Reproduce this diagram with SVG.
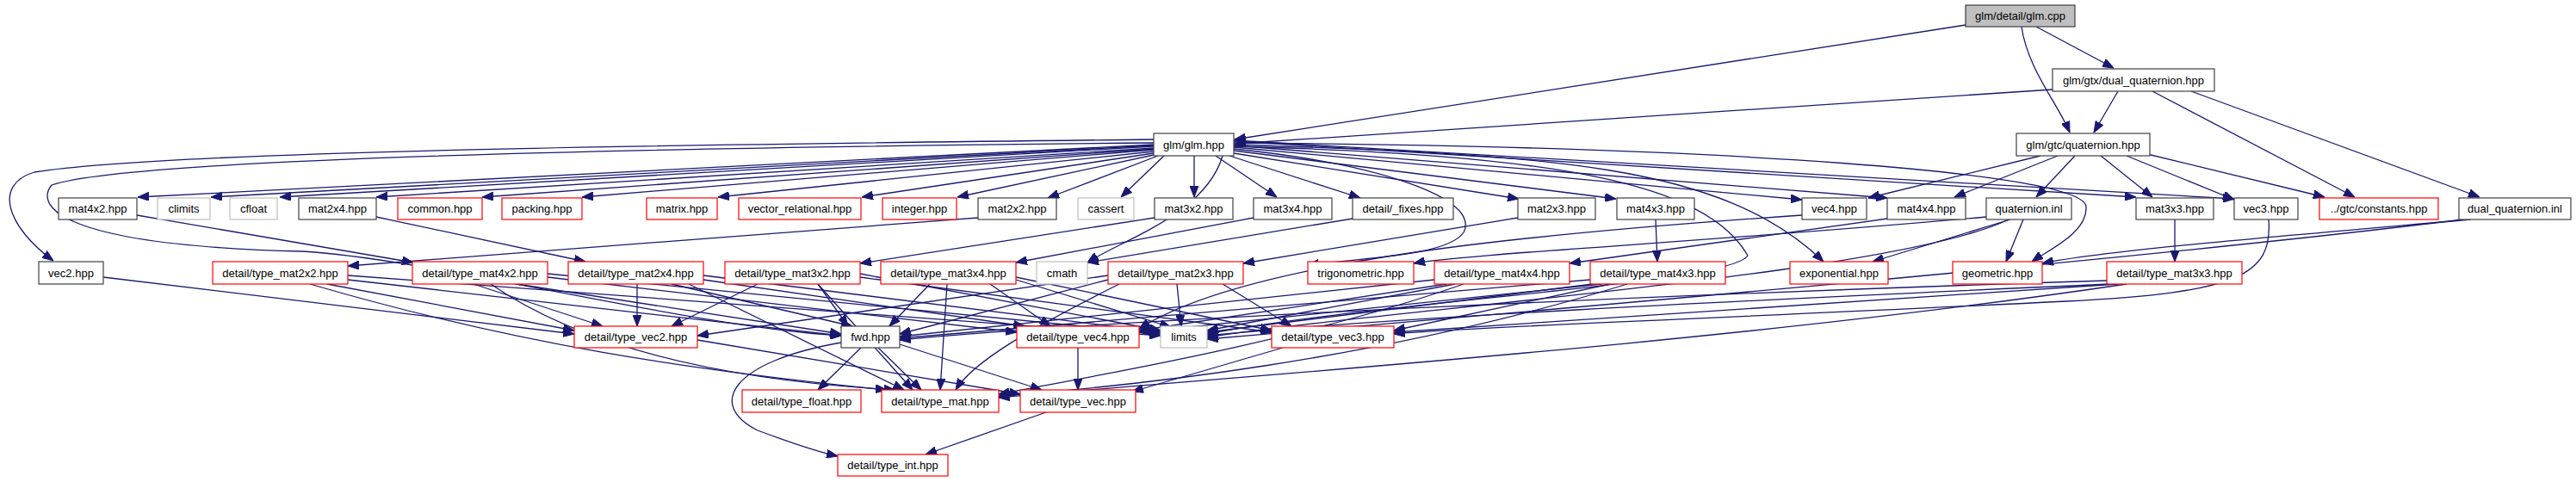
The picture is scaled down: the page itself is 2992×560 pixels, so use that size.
<svg xmlns="http://www.w3.org/2000/svg" width="2992" height="560" viewBox="0 0 2992 560">
<style>
rect{fill:#fff;stroke-width:1.2}
.k rect{stroke:#404040}
.r rect{stroke:#ff0000}
.g rect{stroke:#bfbfbf}
.top rect{fill:#bfbfbf;stroke:#404040}
text{font-family:"Liberation Sans",Arial,sans-serif;font-size:13px;text-anchor:middle;fill:#000}
#edges path{fill:none;stroke:#191970;stroke-width:1.3;marker-end:url(#a)}
</style>
<defs>
<marker id="a" markerUnits="userSpaceOnUse" markerWidth="13" markerHeight="10" refX="13" refY="5" orient="auto">
<path d="M0,0 L13,5 L0,10 z" fill="#191970" stroke="#191970"/>
</marker>
</defs>
<rect x="0" y="0" width="2992" height="560" style="fill:#fff;stroke:none"/>
<g id="edges">
<path d="M2283,29 L1434,162"/>
<path d="M2348,31 C2355,80 2390,120 2404,154"/>
<path d="M2365,31 L2455,79"/>
<path d="M2384,104 L1434,167"/>
<path d="M2460,106 L2432,154"/>
<path d="M2500,106 L2735,229"/>
<path d="M2545,106 L2880,229"/>
<path d="M2370,181 L2170,230"/>
<path d="M2390,181 L2270,229"/>
<path d="M2410,181 L2365,229"/>
<path d="M2440,181 L2500,229"/>
<path d="M2470,181 L2595,232"/>
<path d="M2490,178 L2700,229"/>
<path d="M1340,162 C800,168 200,175 40,200 C-10,215 10,265 62,303"/>
<path d="M1340,166 C700,172 150,185 60,215 C40,240 70,285 350,292 C500,300 800,380 977,390"/>
<path d="M1340,168 L160,229"/>
<path d="M1340,169 L245,229"/>
<path d="M1340,170 L325,229"/>
<path d="M1340,172 L437,229"/>
<path d="M1340,173 L560,229"/>
<path d="M1340,174 L676,229"/>
<path d="M1340,176 L834,229"/>
<path d="M1340,178 L1001,229"/>
<path d="M1340,180 L1112,229"/>
<path d="M1345,181 L1217,230"/>
<path d="M1352,181 L1302,229"/>
<path d="M1387,181 L1387,229"/>
<path d="M1412,181 L1483,229"/>
<path d="M1428,181 L1580,230"/>
<path d="M1433,178 L1764,231"/>
<path d="M1433,175 L1877,231"/>
<path d="M1433,173 C1600,190 1720,230 1700,270 C1680,300 1560,300 1519,309"/>
<path d="M1433,171 L2093,232"/>
<path d="M1433,169 L2192,230"/>
<path d="M1433,168 C1800,180 2000,190 2118,304"/>
<path d="M1433,166 C2000,170 2420,200 2423,240 C2425,270 2380,290 2360,304"/>
<path d="M1433,164 L2481,229"/>
<path d="M1433,163 L2595,231"/>
<path d="M1433,170 C1800,180 1980,210 2030,297 C2010,330 1600,350 1402,388"/>
<path d="M1420,181 C1400,250 1300,280 1263,305"/>
<path d="M120,322 L667,388"/>
<path d="M159,250 L480,305"/>
<path d="M437,252 L680,304"/>
<path d="M1136,253 L404,309"/>
<path d="M1341,253 L999,306"/>
<path d="M1456,253 L1180,305"/>
<path d="M1571,254 L1263,305"/>
<path d="M1763,253 L1444,306"/>
<path d="M1923,255 L1925,304"/>
<path d="M2093,250 C1800,270 1450,300 1323,382"/>
<path d="M2192,254 L1823,306"/>
<path d="M2307,252 C2000,280 1700,295 1642,306"/>
<path d="M2335,255 L2175,304"/>
<path d="M2350,255 L2330,304"/>
<path d="M2333,255 C2200,320 1600,360 1402,392"/>
<path d="M2526,255 L2526,304"/>
<path d="M2635,255 C2640,320 2600,340 2400,350 C2000,370 1700,380 1619,388"/>
<path d="M2870,255 C2700,270 2450,290 2372,306"/>
<path d="M2860,255 C2500,300 1800,360 1402,394"/>
<path d="M404,325 L977,390"/>
<path d="M380,330 L667,384"/>
<path d="M360,330 C600,400 800,430 1030,453"/>
<path d="M404,320 L1348,390"/>
<path d="M600,330 L977,388"/>
<path d="M550,330 L700,379"/>
<path d="M636,322 L1181,386"/>
<path d="M570,330 C700,420 900,445 1040,453"/>
<path d="M636,318 L1348,388"/>
<path d="M780,330 L990,379"/>
<path d="M740,330 L740,379"/>
<path d="M817,325 L1190,379"/>
<path d="M800,330 L1050,453"/>
<path d="M817,320 L1348,386"/>
<path d="M950,330 L985,379"/>
<path d="M880,330 L780,379"/>
<path d="M999,322 L1477,386"/>
<path d="M950,330 L1060,453"/>
<path d="M999,318 L1348,384"/>
<path d="M1080,330 L1033,379"/>
<path d="M1180,322 L1477,384"/>
<path d="M1150,330 L1220,379"/>
<path d="M1100,330 L1092,453"/>
<path d="M1180,325 L1360,380"/>
<path d="M1287,325 L1045,388"/>
<path d="M1287,320 L810,390"/>
<path d="M1420,330 L1500,379"/>
<path d="M1300,330 C1200,380 1130,420 1110,453"/>
<path d="M1367,330 L1372,379"/>
<path d="M1666,325 L1045,391"/>
<path d="M1680,330 L1323,384"/>
<path d="M1700,330 C1500,400 1250,440 1160,458"/>
<path d="M1690,330 L1402,384"/>
<path d="M1847,325 L1045,393"/>
<path d="M1870,330 L1619,384"/>
<path d="M1860,330 L1323,386"/>
<path d="M1890,330 C1600,420 1300,450 1160,460"/>
<path d="M1850,330 L1402,386"/>
<path d="M2447,326 C2000,340 1300,370 1045,395"/>
<path d="M2460,330 L1619,386"/>
<path d="M2470,330 C2000,400 1400,440 1160,462"/>
<path d="M2450,330 C2000,350 1600,370 1402,390"/>
<path d="M810,395 L1185,458"/>
<path d="M1000,404 L950,453"/>
<path d="M1020,404 L1070,453"/>
<path d="M1045,400 L1210,453"/>
<path d="M977,398 C850,420 820,470 880,500 C920,515 950,525 973,530"/>
<path d="M1252,404 L1252,453"/>
<path d="M1490,404 L1315,455"/>
<path d="M1215,479 L1075,528"/>
</g>
<g id="n_glm_cpp" class="top"><rect x="2283" y="6" width="127" height="25"/><text x="2346.5" y="23">glm/detail/glm.cpp</text></g>
<g id="n_dual_quaternion_hpp" class="k"><rect x="2384" y="80" width="188" height="26"/><text x="2478" y="97.5">glm/gtx/dual_quaternion.hpp</text></g>
<g id="n_glm_hpp" class="k"><rect x="1340" y="155" width="93" height="26"/><text x="1386.5" y="172.5">glm/glm.hpp</text></g>
<g id="n_quaternion_hpp" class="k"><rect x="2342" y="155" width="155" height="26"/><text x="2419.5" y="172.5">glm/gtc/quaternion.hpp</text></g>
<g id="n_mat4x2" class="k"><rect x="68" y="230" width="91" height="25"/><text x="113.5" y="247">mat4x2.hpp</text></g>
<g id="n_climits" class="g"><rect x="183" y="230" width="61" height="25"/><text x="213.5" y="247">climits</text></g>
<g id="n_cfloat" class="g"><rect x="267" y="230" width="55" height="25"/><text x="294.5" y="247">cfloat</text></g>
<g id="n_mat2x4" class="k"><rect x="347" y="230" width="90" height="25"/><text x="392" y="247">mat2x4.hpp</text></g>
<g id="n_common" class="r"><rect x="462" y="230" width="98" height="25"/><text x="511" y="247">common.hpp</text></g>
<g id="n_packing" class="r"><rect x="583" y="230" width="93" height="25"/><text x="629.5" y="247">packing.hpp</text></g>
<g id="n_matrix" class="r"><rect x="751" y="230" width="82" height="25"/><text x="792" y="247">matrix.hpp</text></g>
<g id="n_vector_relational" class="r"><rect x="858" y="230" width="142" height="25"/><text x="929" y="247">vector_relational.hpp</text></g>
<g id="n_integer" class="r"><rect x="1025" y="230" width="86" height="25"/><text x="1068" y="247">integer.hpp</text></g>
<g id="n_mat2x2" class="k"><rect x="1136" y="230" width="91" height="25"/><text x="1181.5" y="247">mat2x2.hpp</text></g>
<g id="n_cassert" class="g"><rect x="1252" y="230" width="65" height="25"/><text x="1284.5" y="247">cassert</text></g>
<g id="n_mat3x2" class="k"><rect x="1341" y="230" width="91" height="25"/><text x="1386.5" y="247">mat3x2.hpp</text></g>
<g id="n_mat3x4" class="k"><rect x="1456" y="230" width="91" height="25"/><text x="1501.5" y="247">mat3x4.hpp</text></g>
<g id="n_fixes" class="k"><rect x="1571" y="230" width="117" height="25"/><text x="1629.5" y="247">detail/_fixes.hpp</text></g>
<g id="n_mat2x3" class="k"><rect x="1763" y="230" width="90" height="25"/><text x="1808" y="247">mat2x3.hpp</text></g>
<g id="n_mat4x3" class="k"><rect x="1878" y="230" width="90" height="25"/><text x="1923" y="247">mat4x3.hpp</text></g>
<g id="n_vec4" class="k"><rect x="2093" y="230" width="75" height="25"/><text x="2130.5" y="247">vec4.hpp</text></g>
<g id="n_mat4x4" class="k"><rect x="2192" y="230" width="91" height="25"/><text x="2237.5" y="247">mat4x4.hpp</text></g>
<g id="n_quaternion_inl" class="k"><rect x="2307" y="230" width="99" height="25"/><text x="2356.5" y="247">quaternion.inl</text></g>
<g id="n_mat3x3" class="k"><rect x="2481" y="230" width="90" height="25"/><text x="2526" y="247">mat3x3.hpp</text></g>
<g id="n_vec3" class="k"><rect x="2595" y="230" width="74" height="25"/><text x="2632" y="247">vec3.hpp</text></g>
<g id="n_constants" class="r"><rect x="2694" y="230" width="138" height="25"/><text x="2763" y="247">../gtc/constants.hpp</text></g>
<g id="n_dual_quaternion_inl" class="k"><rect x="2856" y="230" width="130" height="25"/><text x="2921" y="247">dual_quaternion.inl</text></g>
<g id="n_vec2" class="k"><rect x="45" y="304" width="75" height="26"/><text x="82.5" y="321.5">vec2.hpp</text></g>
<g id="n_type_mat2x2" class="r"><rect x="247" y="304" width="157" height="26"/><text x="325.5" y="321.5">detail/type_mat2x2.hpp</text></g>
<g id="n_type_mat4x2" class="r"><rect x="479" y="304" width="157" height="26"/><text x="557.5" y="321.5">detail/type_mat4x2.hpp</text></g>
<g id="n_type_mat2x4" class="r"><rect x="660" y="304" width="157" height="26"/><text x="738.5" y="321.5">detail/type_mat2x4.hpp</text></g>
<g id="n_type_mat3x2" class="r"><rect x="842" y="304" width="157" height="26"/><text x="920.5" y="321.5">detail/type_mat3x2.hpp</text></g>
<g id="n_type_mat3x4" class="r"><rect x="1023" y="304" width="157" height="26"/><text x="1101.5" y="321.5">detail/type_mat3x4.hpp</text></g>
<g id="n_cmath" class="g"><rect x="1204" y="304" width="59" height="26"/><text x="1233.5" y="321.5">cmath</text></g>
<g id="n_type_mat2x3" class="r"><rect x="1287" y="304" width="157" height="26"/><text x="1365.5" y="321.5">detail/type_mat2x3.hpp</text></g>
<g id="n_trigonometric" class="r"><rect x="1519" y="304" width="123" height="26"/><text x="1580.5" y="321.5">trigonometric.hpp</text></g>
<g id="n_type_mat4x4" class="r"><rect x="1666" y="304" width="157" height="26"/><text x="1744.5" y="321.5">detail/type_mat4x4.hpp</text></g>
<g id="n_type_mat4x3" class="r"><rect x="1847" y="304" width="157" height="26"/><text x="1925.5" y="321.5">detail/type_mat4x3.hpp</text></g>
<g id="n_exponential" class="r"><rect x="2079" y="304" width="114" height="26"/><text x="2136" y="321.5">exponential.hpp</text></g>
<g id="n_geometric" class="r"><rect x="2268" y="304" width="104" height="26"/><text x="2320" y="321.5">geometric.hpp</text></g>
<g id="n_type_mat3x3" class="r"><rect x="2447" y="304" width="157" height="26"/><text x="2525.5" y="321.5">detail/type_mat3x3.hpp</text></g>
<g id="n_type_vec2" class="r"><rect x="667" y="379" width="143" height="25"/><text x="738.5" y="396">detail/type_vec2.hpp</text></g>
<g id="n_fwd" class="k"><rect x="977" y="379" width="68" height="25"/><text x="1011" y="396">fwd.hpp</text></g>
<g id="n_type_vec4" class="r"><rect x="1181" y="379" width="142" height="25"/><text x="1252" y="396">detail/type_vec4.hpp</text></g>
<g id="n_limits" class="g"><rect x="1348" y="379" width="54" height="25"/><text x="1375" y="396">limits</text></g>
<g id="n_type_vec3" class="r"><rect x="1477" y="379" width="142" height="25"/><text x="1548" y="396">detail/type_vec3.hpp</text></g>
<g id="n_type_float" class="r"><rect x="862" y="453" width="138" height="26"/><text x="931" y="470.5">detail/type_float.hpp</text></g>
<g id="n_type_mat" class="r"><rect x="1024" y="453" width="136" height="26"/><text x="1092" y="470.5">detail/type_mat.hpp</text></g>
<g id="n_type_vec" class="r"><rect x="1185" y="453" width="134" height="26"/><text x="1252" y="470.5">detail/type_vec.hpp</text></g>
<g id="n_type_int" class="r"><rect x="973" y="528" width="128" height="25"/><text x="1037" y="545">detail/type_int.hpp</text></g>
</svg>
